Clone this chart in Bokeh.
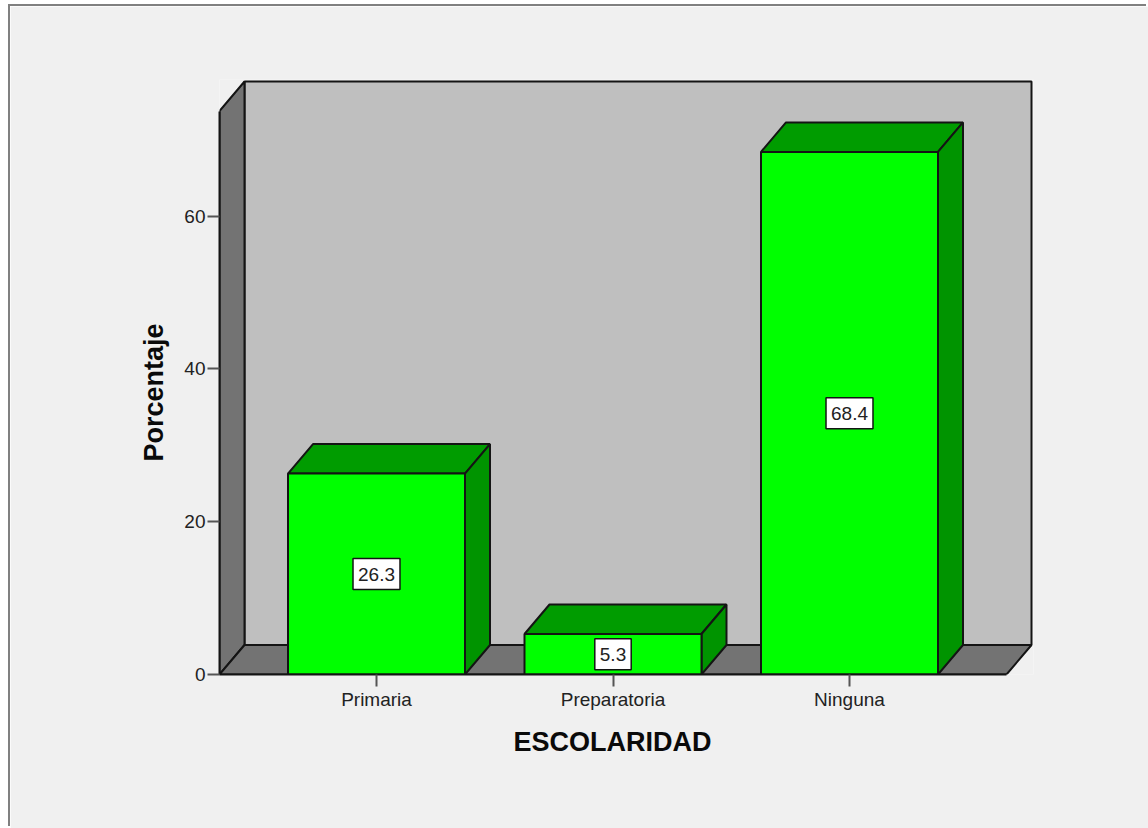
from bokeh.plotting import figure
from bokeh.models import FixedTicker, Title
from bokeh.embed import file_html
from bokeh.resources import INLINE
from bokeh.core.properties import value

categories = ["Primaria", "Preparatoria", "Ninguna"]
percentages = [26.3, 5.3, 68.4]
labels = ["26.3", "5.3", "68.4"]
y_ticks = [0, 20, 40, 60]

FONT = "Liberation Sans"
BG = "#f0f0f0"
EDGE = "#141414"

# scale of the picture
x_pos = [1, 2, 3]
px_x = 236.5
px_y = 7.64
dx = 25 / px_x
dy = 29.5 / px_y
half = 88.5 / px_x
x_left = 1 - 157 / px_x
x_right = 1 + 655 / px_x
y_top = 593 / px_y
y_wall = y_top - dy
pad = 2

p = figure(width=1138, height=822, output_backend="svg", toolbar_location=None,
           x_range=(x_left, x_right + pad / px_x), y_range=(0, y_top + pad / px_y),
           min_border_left=209, min_border_right=117 - pad, min_border_top=75 - pad, min_border_bottom=154)
p.styles = {"margin-left": "10px", "margin-top": "6px", "box-shadow": "-2px -2px 0 #808080"}
p.border_fill_color = BG
p.background_fill_color = BG
p.outline_line_color = None
p.grid.visible = False

# walls and floor
p.patch([x_left + dx, x_right, x_right, x_left + dx], [dy, dy, y_top, y_top],
        fill_color="#bfbfbf", line_color=EDGE, line_width=2)
p.patch([x_left, x_left + dx, x_left + dx, x_left], [0, dy, y_top, y_wall],
        fill_color="#737373", line_color=EDGE, line_width=2)
p.patch([x_left, x_left + dx, x_right, x_right - dx], [0, dy, dy, 0],
        fill_color="#737373", line_color=EDGE, line_width=2)

# bars
for x, v in zip(x_pos, percentages):
    l, r = x - half, x + half
    p.patch([l, l + dx, r + dx, r], [v, v + dy, v + dy, v],
            fill_color="#009c00", line_color=EDGE, line_width=2)
    p.patch([r, r + dx, r + dx, r], [0, dy, v + dy, v],
            fill_color="#009400", line_color=EDGE, line_width=2)
    p.patch([l, r, r, l], [0, 0, v, v],
            fill_color="#00ff00", line_color=EDGE, line_width=2)

p.text(x_pos, [v / 2 for v in percentages], text=labels,
       text_font=value(FONT), text_font_size="19px", text_color="#222222",
       text_align="center", text_baseline="middle",
       background_fill_color="white", border_line_color=EDGE, border_line_width=1.5,
       padding=(5, 9))

# axes
xa = p.xaxis[0]
xa.ticker = FixedTicker(ticks=x_pos)
xa.major_label_overrides = dict(zip(x_pos, categories))
xa.bounds = (x_left, x_right - dx)

ya = p.yaxis[0]
ya.ticker = FixedTicker(ticks=y_ticks)
ya.bounds = (0, y_wall)

for a in (xa, ya):
    a.axis_line_color = EDGE
    a.axis_line_width = 2
    a.major_tick_line_color = "#555555"
    a.major_tick_line_width = 2
    a.major_tick_out = 12
    a.major_tick_in = 0
    a.minor_tick_line_color = None
    a.major_label_text_font = FONT
    a.major_label_text_font_size = "19px"
    a.major_label_text_color = "#222222"
xa.major_label_standoff = 2
ya.major_label_standoff = 2
ya.major_label_orientation = "horizontal"

# axis titles sit under the front plane of the chart, not under the frame
title_style = dict(text_font=FONT, text_font_size="27px", text_font_style="bold",
                   text_color="#0a0a0a", align="left")
p.add_layout(Title(text="ESCOLARIDAD", offset=294, standoff=28, vertical_align="top", **title_style), "below")
p.add_layout(Title(text="Porcentaje", offset=213, standoff=26, vertical_align="bottom", **title_style), "left")

open("out.html", "w").write(file_html(p, INLINE))
